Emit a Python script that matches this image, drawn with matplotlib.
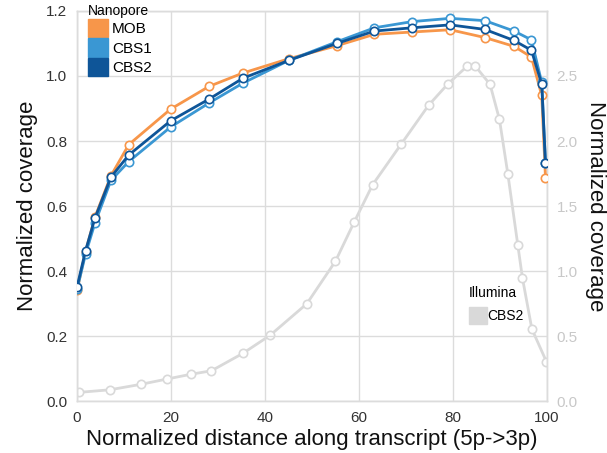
import matplotlib
matplotlib.use("Agg")
import matplotlib.pyplot as plt
from matplotlib.patches import Patch

plt.rcParams['font.family'] = ['Liberation Sans', 'DejaVu Sans']

# Nanopore data (left axis)
x_nano = [0.0, 1.8, 3.8, 7.2, 11.0, 19.9, 28.1, 35.3, 45.1, 55.3, 63.3, 71.3, 79.4, 86.8, 93.0, 96.7, 98.9, 99.7]
mob = [0.342, 0.460, 0.566, 0.693, 0.789, 0.898, 0.968, 1.009, 1.053, 1.093, 1.128, 1.135, 1.142, 1.118, 1.091, 1.058, 0.940, 0.686]
cbs1 = [0.345, 0.453, 0.548, 0.679, 0.737, 0.843, 0.917, 0.978, 1.048, 1.105, 1.148, 1.167, 1.177, 1.170, 1.138, 1.111, 0.980, 0.731]
cbs2 = [0.352, 0.463, 0.563, 0.689, 0.757, 0.862, 0.929, 0.993, 1.048, 1.100, 1.138, 1.148, 1.157, 1.143, 1.109, 1.079, 0.975, 0.731]

# Illumina data (right axis)
x_ill = [0.4, 7.0, 13.6, 19.2, 24.2, 28.6, 35.3, 41.1, 48.9, 55.0, 59.0, 62.9, 69.0, 74.8, 78.9, 83.0, 84.8, 87.9, 89.9, 91.7, 93.8, 94.8, 96.8, 99.9]
ill_cbs2 = [0.069, 0.089, 0.131, 0.172, 0.208, 0.235, 0.369, 0.508, 0.75, 1.077, 1.379, 1.664, 1.977, 2.274, 2.438, 2.574, 2.574, 2.435, 2.166, 1.743, 1.202, 0.946, 0.556, 0.305]

left_ticks = [0.0, 0.2, 0.4, 0.6, 0.8, 1.0, 1.2]
right_ticks = [0.0, 0.5, 1.0, 1.5, 2.0, 2.5]
x_ticks = [0, 20, 40, 60, 80, 100]

c_mob = '#f7964a'
c_cbs1 = '#3a97d3'
c_cbs2 = '#0e5598'
c_ill = '#d9d9d9'
grid_c = '#dcdcdc'

fig = plt.figure(figsize=(6.07, 4.53), dpi=100)
ax = fig.add_axes([0.127, 0.114, 0.774, 0.862])
ax2 = ax.twinx()

# Illumina on right axis, drawn behind
ax2.plot(x_ill, ill_cbs2, color=c_ill, lw=2, marker='o', ms=6,
         mfc='white', mec=c_ill, mew=1.2, zorder=1)
ax2.set_ylim(0, 3.0)
ax2.set_yticks(right_ticks)
ax2.set_yticklabels([f"{t:.1f}" for t in right_ticks])
ax2.tick_params(axis='y', colors='#c8c8c8', labelsize=11, length=0, pad=7)
ax2.set_ylabel('Normalized coverage', fontsize=16, rotation=270, labelpad=20, color='#111111')

ax.set_zorder(ax2.get_zorder() + 1)
ax.patch.set_visible(False)

for y, c in [(mob, c_mob), (cbs1, c_cbs1), (cbs2, c_cbs2)]:
    ax.plot(x_nano, y, color=c, lw=2, marker='o', ms=6, mfc='white', mec=c, mew=1.2, zorder=3)

ax.set_xlim(0, 100)
ax.set_ylim(0, 1.2)
ax.set_xticks(x_ticks)
ax.set_yticks(left_ticks)
ax.set_yticklabels([f"{t:.1f}" for t in left_ticks])
ax.tick_params(axis='both', colors='#333333', labelsize=11, length=0, pad=7)
ax.grid(True, color=grid_c, lw=1)
ax2.grid(False)
ax.set_axisbelow(True)
for a in (ax, ax2):
    for s in a.spines.values():
        s.set_color(grid_c)
        s.set_linewidth(1)
ax.set_xlabel('Normalized distance along transcript (5p->3p)', fontsize=16, color='#111111', labelpad=3)
ax.set_ylabel('Normalized coverage', fontsize=16, color='#111111', labelpad=6)

h1 = [Patch(color=c_mob, label='MOB'), Patch(color=c_cbs1, label='CBS1'), Patch(color=c_cbs2, label='CBS2')]
leg1 = ax.legend(handles=h1, title='Nanopore', loc='upper left', bbox_to_anchor=(0.0, 1.045),
                 frameon=False, fontsize=11, title_fontsize=10, handlelength=1.3, handleheight=1.5,
                 handletextpad=0.3, labelspacing=0.05, borderaxespad=0.3, alignment='left')
ax.add_artist(leg1)
h2 = [Patch(color=c_ill, label='CBS2')]
ax.legend(handles=h2, title='Illumina', loc='upper left', bbox_to_anchor=(0.822, 0.31),
          frameon=False, fontsize=10, title_fontsize=10, handlelength=1.3, handleheight=1.5,
          handletextpad=0.05, borderaxespad=0.0, alignment='left')

fig.savefig('out.png', dpi=100)
